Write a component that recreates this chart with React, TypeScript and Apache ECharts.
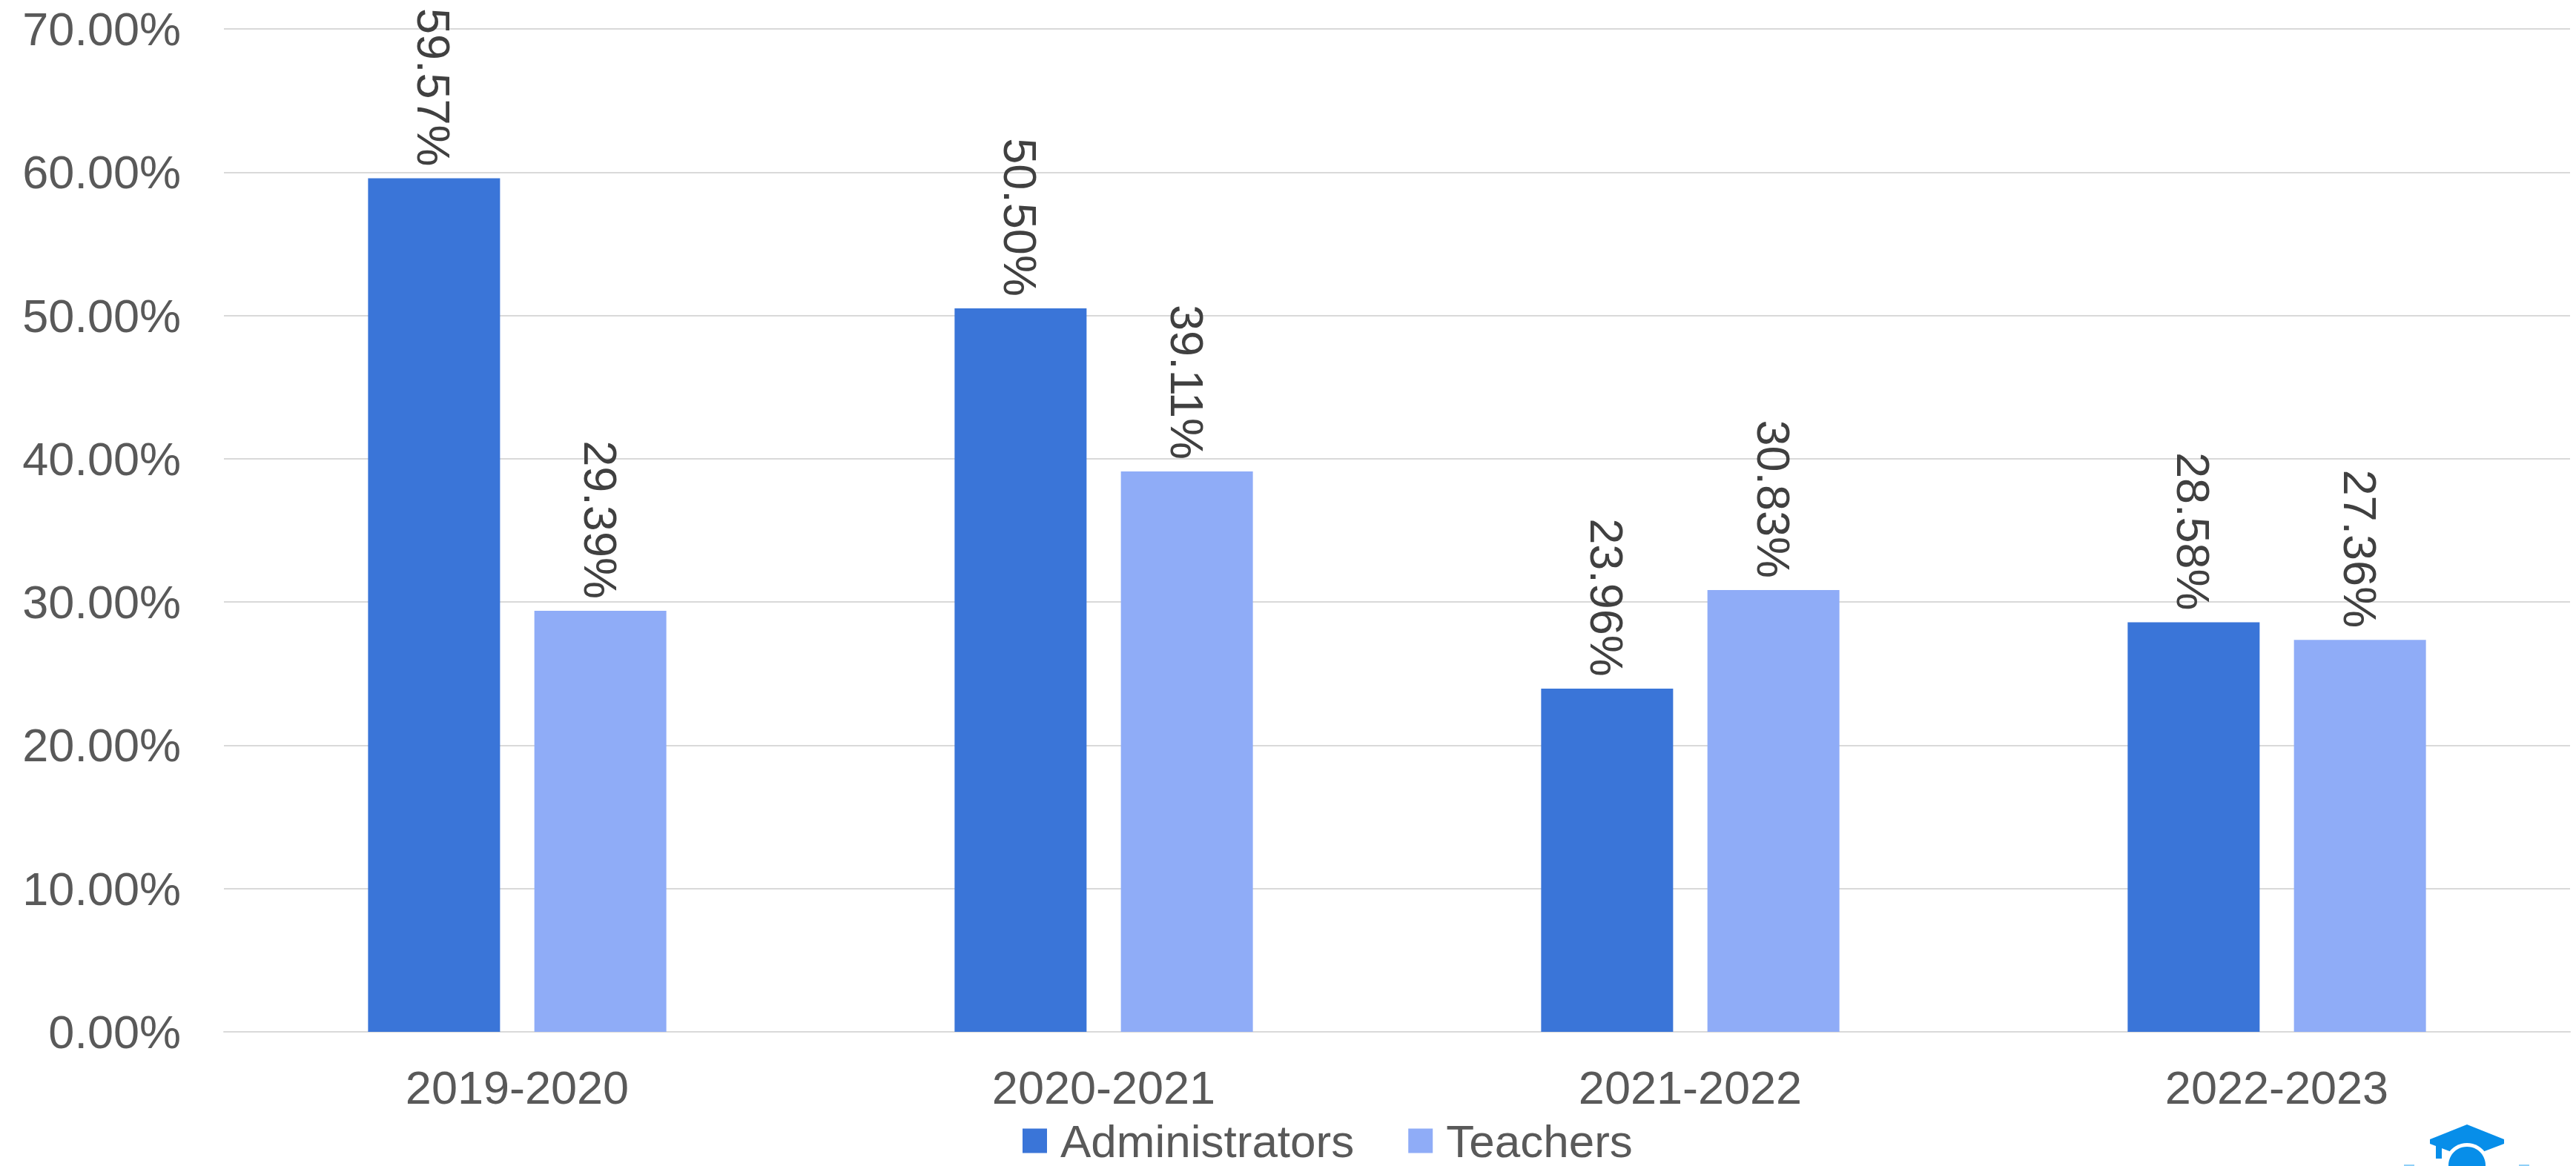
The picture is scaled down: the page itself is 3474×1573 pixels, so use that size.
import React, { useEffect, useRef } from "react";
import * as echarts from "echarts";

const categories = ["2019-2020", "2020-2021", "2021-2022", "2022-2023"];
const administrators = [59.57, 50.5, 23.96, 28.58];
const teachers = [29.39, 39.11, 30.83, 27.36];
const seriesNames = ["Administrators", "Teachers"];

const FONT = "'Liberation Sans', Arial, sans-serif";

export default function App() {
  const ref = useRef<HTMLDivElement>(null);
  useEffect(() => {
    if (!ref.current) return;
    const chart = echarts.init(ref.current, undefined, { renderer: "svg" });
    const labelCfg = {
      show: true,
      position: "top",
      distance: 16,
      rotate: -90,
      align: "right",
      verticalAlign: "middle",
      fontSize: 63,
      fontFamily: FONT,
      color: "#404040",
      formatter: (p: any) => p.value.toFixed(2) + "%",
    };
    chart.setOption({
      animation: false,
      backgroundColor: "#ffffff",
      textStyle: { fontFamily: FONT },
      grid: { left: 302, right: 8, top: 39, bottom: 181, containLabel: false },
      legend: {
        data: seriesNames,
        left: 1374,
        top: 1503,
        itemWidth: 33,
        itemHeight: 33,
        itemGap: 73,
        icon: "rect",
        textStyle: {
          fontSize: 62,
          lineHeight: 58,
          fontFamily: FONT,
          color: "#595959",
          padding: [0, 0, 0, 13],
        },
      },
      xAxis: {
        type: "category",
        data: categories,
        axisTick: { show: false },
        axisLine: { lineStyle: { color: "#d9d9d9", width: 2 } },
        axisLabel: {
          fontSize: 63,
          fontFamily: FONT,
          color: "#595959",
          margin: 43,
        },
      },
      yAxis: {
        type: "value",
        min: 0,
        max: 70,
        interval: 10,
        axisLine: { show: false },
        axisTick: { show: false },
        splitLine: { lineStyle: { color: "#d9d9d9", width: 2 } },
        axisLabel: {
          fontSize: 63,
          fontFamily: FONT,
          color: "#595959",
          margin: 58,
          formatter: (v: number) => v.toFixed(2) + "%",
        },
      },
      series: [
        {
          name: seriesNames[0],
          type: "bar",
          data: administrators,
          barWidth: 178,
          barGap: "26%",
          itemStyle: { color: "#3a75d8" },
          label: labelCfg,
        },
        {
          name: seriesNames[1],
          type: "bar",
          data: teachers,
          barWidth: 178,
          barGap: "26%",
          itemStyle: { color: "#8facf7" },
          label: labelCfg,
        },
      ],
      graphic: [
        {
          type: "group",
          silent: true,
          children: [
            {
              type: "polygon",
              shape: {
                points: [
                  [3327, 1517],
                  [3377, 1537],
                  [3377, 1543],
                  [3327, 1562],
                  [3277, 1543],
                  [3277, 1537],
                ],
              },
              style: { fill: "#078ee9" },
            },
            {
              type: "rect",
              shape: { x: 3285, y: 1542, width: 8, height: 21 },
              style: { fill: "#078ee9" },
            },
            {
              type: "circle",
              shape: { cx: 3327, cy: 1572, r: 30 },
              style: { fill: "#ffffff" },
            },
            {
              type: "circle",
              shape: { cx: 3327, cy: 1572, r: 25 },
              style: { fill: "#078ee9" },
            },
            {
              type: "rect",
              shape: { x: 3242, y: 1571, width: 14, height: 2 },
              style: { fill: "#8fd0f7" },
            },
            {
              type: "rect",
              shape: { x: 3397, y: 1571, width: 14, height: 2 },
              style: { fill: "#8fd0f7" },
            },
          ],
        },
      ],
    });
    return () => chart.dispose();
  }, []);
  return (
    <div
      ref={ref}
      style={{ position: "fixed", left: 0, top: 0, width: 3474, height: 1573 }}
    />
  );
}
